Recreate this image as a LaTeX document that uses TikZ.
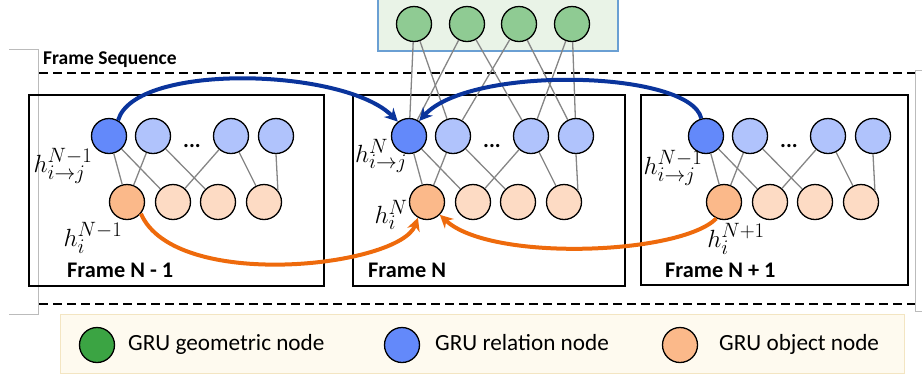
\documentclass[tikz,border=0pt]{standalone}
\usepackage{fontspec}
\setmainfont{Carlito}
\usetikzlibrary{arrows.meta}
\definecolor{gnode}{HTML}{8FCB93}
\definecolor{gleg}{HTML}{3BA443}
\definecolor{bmain}{HTML}{6389FA}
\definecolor{blight}{HTML}{B0C3FC}
\definecolor{omain}{HTML}{FBB98A}
\definecolor{olight}{HTML}{FDDBC4}
\definecolor{arrowb}{HTML}{0A349C}
\definecolor{arrowo}{HTML}{EE6A0C}
\definecolor{gbox}{HTML}{E9F3E7}
\definecolor{gboxb}{HTML}{6A9FD3}
\definecolor{legfill}{HTML}{FEFAEF}
\definecolor{legdraw}{HTML}{F3E5C2}
\definecolor{edgegrey}{HTML}{858585}
\definecolor{brk}{HTML}{BBBBBB}
\tikzset{
  nd/.style={circle, draw=black, line width=1.3pt, minimum size=35pt, inner sep=0pt},
  edgeline/.style={draw=edgegrey, line width=1.3pt},
  framebox/.style={draw=black, line width=2pt},
  dashline/.style={draw=black, line width=2pt, dash pattern=on 9pt off 5pt},
  bracketline/.style={draw=brk, line width=0.8pt},
  barrow/.style={draw=arrowb, line width=4pt, -{Stealth[length=13pt,width=13pt]}},
  oarrow/.style={draw=arrowo, line width=4pt, -{Stealth[length=13pt,width=13pt]}},
  mathlbl/.style={inner sep=0pt, font=\fontsize{24.88}{30}\selectfont},
  framelbl/.style={inner sep=0pt, anchor=base west, font=\fontsize{22.3}{26}\selectfont\bfseries},
  leglbl/.style={inner sep=0pt, anchor=base west, font=\fontsize{23.2}{27}\selectfont},
  dotslbl/.style={inner sep=0pt, font=\fontsize{22}{26}\selectfont\bfseries},
}
\newcommand{\gruframe}[2]{%
  \node[nd, fill=bmain]  (#1b1) at (#2,136) {};
  \node[nd, fill=blight] (#1b2) at (#2+44,136) {};
  \node[nd, fill=blight] (#1b3) at (#2+122,136) {};
  \node[nd, fill=blight] (#1b4) at (#2+167,136) {};
  \node[nd, fill=omain]  (#1o1) at (#2+18,202) {};
  \node[nd, fill=olight] (#1o2) at (#2+64,202) {};
  \node[nd, fill=olight] (#1o3) at (#2+109,202) {};
  \node[nd, fill=olight] (#1o4) at (#2+155,202) {};
  \node[dotslbl] (#1dots) at (#2+83,146) {...};
  \draw[edgeline] (#1b1) -- (#1o1);
  \draw[edgeline] (#1b1) -- (#1o2);
  \draw[edgeline] (#1b2) -- (#1o1);
  \draw[edgeline] (#1b2) -- (#1o3);
  \draw[edgeline] (#1b3) -- (#1o2);
  \draw[edgeline] (#1b3) -- (#1o4);
  \draw[edgeline] (#1b4.south) -- (#1o4.40);
}
\begin{document}
\begin{tikzpicture}[x=1pt,y=-1pt]
\useasboundingbox (0,0) rectangle (922,376);
% grey brackets
\draw[bracketline] (9,49) -- (38,49) -- (38,314) -- (9,314);
\draw[bracketline] (922,70) -- (915,70) -- (915,311) -- (922,311);
% dashed frame sequence lines
\draw[dashline] (39,73) -- (915,73);
\draw[dashline] (39,304) -- (915,304);
\node[inner sep=0pt, anchor=base west, font=\fontsize{19.5}{23}\selectfont\bfseries] (seqlbl) at (43,64) {Frame Sequence};
% frames
\draw[framebox] (29,95) rectangle (324,286);
\draw[framebox] (353,95) rectangle (625,286);
\draw[framebox] (641,95) rectangle (908,285);
% green box
\draw[draw=gboxb, fill=gbox, line width=2pt] (378,-5) rectangle (618,51);
\node[nd, fill=gnode] (g1) at (414,24) {};
\node[nd, fill=gnode] (g2) at (467,24) {};
\node[nd, fill=gnode] (g3) at (519,24) {};
\node[nd, fill=gnode] (g4) at (572,24) {};
% frame nodes
\gruframe{l}{109}
\gruframe{m}{409}
\gruframe{r}{706}
% geometric to relation edges
\draw[edgeline] (g1) -- (mb1);
\draw[edgeline] (g1) -- (mb2);
\draw[edgeline] (g2) -- (mb1);
\draw[edgeline] (g2) -- (mb3);
\draw[edgeline] (g3) -- (mb2);
\draw[edgeline] (g3) -- (mb4);
\draw[edgeline] (g4) -- (mb3);
\draw[edgeline] (g4) -- (mb4);
% arrows
\draw[barrow] (lb1.60) .. controls (135,62) and (345,68) .. (mb1.128);
\draw[barrow] (rb1.105) .. controls (690,70) and (470,65) .. (mb1.56);
\draw[oarrow] (lo1.-40) .. controls (175,292) and (400,267) .. (mo1.-120);
\draw[oarrow] (ro1.-115) .. controls (680,255) and (490,262) .. (mo1.-45);
% math labels
\node[mathlbl] (lrel) at (63,166) {$h^{N-1}_{i\to j}$};
\node[mathlbl] (mrel) at (381,156) {$h^{N}_{i\to j}$};
\node[mathlbl] (rrel) at (673,168) {$h^{N-1}_{i\to j}$};
\node[mathlbl] (lobj) at (93,238) {$h^{N-1}_{i}$};
\node[mathlbl] (mobj) at (391,215) {$h^{N}_{i}$};
\node[mathlbl] (robj) at (736,239) {$h^{N+1}_{i}$};
% frame labels
\node[framelbl] (f1) at (67,277) {Frame N - 1};
\node[framelbl] (f2) at (368,277) {Frame N};
\node[framelbl] (f3) at (665,277) {Frame N + 1};
% legend
\draw[draw=legdraw, fill=legfill, line width=1pt] (60,314) rectangle (904,373);
\node[nd, fill=gleg] (leg1) at (97,345) {};
\node[nd, fill=bmain] (leg2) at (402,345) {};
\node[nd, fill=omain] (leg3) at (680,345) {};
\node[leglbl] (legt1) at (128,350) {GRU geometric node};
\node[leglbl] (legt2) at (435,350) {GRU relation node};
\node[leglbl] (legt3) at (719,350) {GRU object node};
\end{tikzpicture}
\end{document}
